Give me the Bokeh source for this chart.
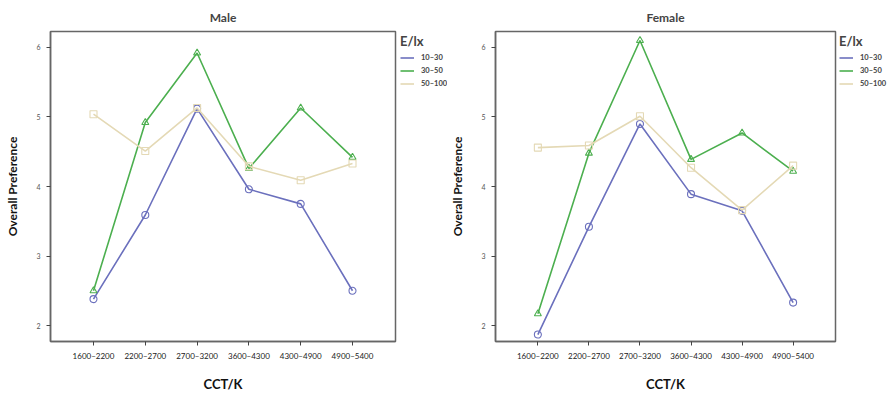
from bokeh.plotting import figure
from bokeh.layouts import row
from bokeh.models import Range1d, FixedTicker, Legend, LegendItem
from bokeh.embed import file_html
from bokeh.resources import INLINE

cct = ["1600–2200", "2200–2700", "2700–3200", "3600–4300", "4300–4900", "4900–5400"]
levels = ["10–30", "30–50", "50–100"]
y_ticks = [2, 3, 4, 5, 6]

male_10_30 = [2.38, 3.59, 5.12, 3.96, 3.75, 2.50]
male_30_50 = [2.50, 4.92, 5.92, 4.26, 5.13, 4.42]
male_50_100 = [5.04, 4.51, 5.13, 4.29, 4.09, 4.33]

female_10_30 = [1.87, 3.42, 4.90, 3.89, 3.65, 2.33]
female_30_50 = [2.17, 4.48, 6.10, 4.39, 4.77, 4.22]
female_50_100 = [4.56, 4.59, 5.01, 4.27, 3.66, 4.30]

colors = ["#6b70bd", "#4caf4f", "#e4d9b5"]
markers = ["circle", "triangle", "square"]
FONT = "Lato"
H = 394


def panel(title, series, left_border):
    p = figure(width=left_border + 345 + 2, height=H,
               output_backend="svg", toolbar_location=None,
               x_range=Range1d(-0.83, 5.83), y_range=Range1d(1.77, 6.23),
               min_border_left=left_border, min_border_right=2,
               min_border_top=30, min_border_bottom=52)
    p.title.text = title
    p.title.align = "center"
    p.title.text_font = FONT
    p.title.text_font_size = "12px"
    p.title.text_font_style = "bold"
    p.title.standoff = 14
    p.grid.visible = False
    p.outline_line_color = "#666666"
    p.outline_line_width = 1.5
    p.background_fill_color = "white"
    p.border_fill_color = "white"

    xs = list(range(len(cct)))
    p.xaxis.ticker = FixedTicker(ticks=xs)
    p.xaxis.major_label_overrides = {i: c for i, c in enumerate(cct)}
    p.yaxis.ticker = FixedTicker(ticks=y_ticks)
    for ax in (p.xaxis, p.yaxis):
        ax.axis_line_color = "#666666"
        ax.axis_line_width = 1.5
        ax.major_tick_line_color = "#444444"
        ax.major_tick_in = 0
        ax.minor_tick_line_color = None
        ax.major_label_text_font = FONT
        ax.axis_label_text_font = FONT
        ax.axis_label_text_font_style = "bold"
        ax.axis_label_text_color = "#111111"
    p.xaxis.major_tick_out = 4
    p.yaxis.major_tick_out = 4
    p.xaxis.major_label_text_font_size = "8px"
    p.xaxis.major_label_text_color = "#222222"
    p.xaxis.major_label_standoff = 5
    p.yaxis.major_label_text_font_size = "7px"
    p.yaxis.major_label_text_color = "#555555"
    p.yaxis.major_label_standoff = 6
    p.xaxis.axis_label = "CCT/K"
    p.xaxis.axis_label_text_font_size = "13px"
    p.xaxis.axis_label_standoff = 12
    p.yaxis.axis_label = "Overall Preference"
    p.yaxis.axis_label_text_font_size = "12px"
    p.yaxis.axis_label_standoff = 13

    for vals, col, mk in zip(series, colors, markers):
        p.line(xs, vals, line_color=col, line_width=1.6)
        p.scatter(xs, vals, marker=mk, size=7, fill_color=None,
                  line_color=col, line_width=1.1)
    return p


def legend_fig(width, x_off, series):
    # legend-only panel: the lines below lie outside its (0..1) view
    q = figure(width=width, height=H, output_backend="svg",
               toolbar_location=None, x_axis_type=None, y_axis_type=None,
               min_border_left=0, min_border_right=0, min_border_top=0,
               min_border_bottom=0, x_range=Range1d(0, 1), y_range=Range1d(0, 1))
    q.outline_line_color = None
    q.grid.visible = False
    items = []
    xs = list(range(len(cct)))
    for vals, col, lab in zip(series, colors, levels):
        r = q.line(xs, vals, line_color=col, line_width=1.6)
        items.append(LegendItem(label=lab, renderers=[r]))
    leg = Legend(items=items, title="E/lx", location=(x_off, 253),
                 title_text_font=FONT, title_text_font_size="13px",
                 title_text_font_style="bold", title_standoff=4,
                 label_text_font=FONT, label_text_font_size="7.5px",
                 label_text_font_style="bold", label_height=9,
                 glyph_width=14, glyph_height=9, spacing=4,
                 label_standoff=7, padding=0, margin=0,
                 border_line_color=None, background_fill_alpha=0)
    q.add_layout(leg)
    return q


male = [male_10_30, male_30_50, male_50_100]
female = [female_10_30, female_30_50, female_50_100]
p1 = panel("Male", male, 50)
l1 = legend_fig(50, 3, male)
p2 = panel("Female", female, 43)
l2 = legend_fig(57, 2, female)
layout = row(p1, l1, p2, l2)
open("out.html", "w").write(file_html(layout, INLINE))
